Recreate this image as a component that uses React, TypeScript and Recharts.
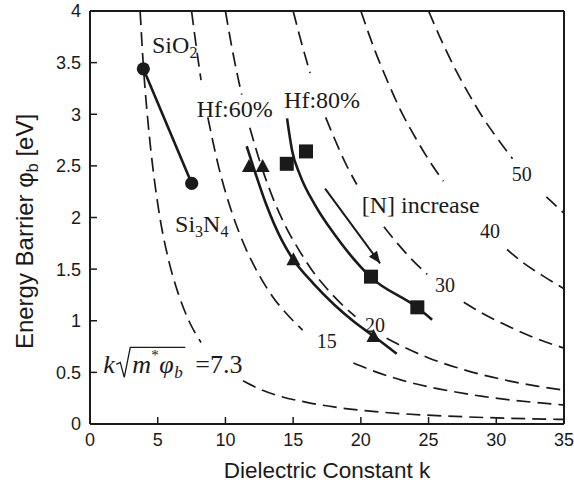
import {
  ComposedChart, Line, Scatter, XAxis, YAxis, ReferenceLine,
} from 'recharts'

type Pt = { x: number; y: number | null }

const xTicks = [0, 5, 10, 15, 20, 25, 30, 35]
const yTicks = [0, 0.5, 1, 1.5, 2, 2.5, 3, 3.5, 4]

// dashed iso-lines of k*sqrt(m* phi_b) (null = gap behind a label)
const iso73: Pt[] = [
  { x: 3.7, y: 4.0 }, { x: 3.95, y: 3.45 }, { x: 4.3, y: 2.9 }, { x: 4.7, y: 2.42 },
  { x: 5.2, y: 1.97 }, { x: 5.8, y: 1.59 }, { x: 6.5, y: 1.27 }, { x: 7.3, y: 1.0 },
  { x: 8.2, y: 0.79 }, { x: 9.8, y: null }, { x: 11.3, y: 0.42 }, { x: 12.5, y: 0.34 },
  { x: 14, y: 0.27 }, { x: 16, y: 0.21 }, { x: 18, y: 0.165 }, { x: 20, y: 0.133 },
  { x: 23, y: 0.1 }, { x: 26, y: 0.079 }, { x: 30, y: 0.059 }, { x: 35, y: 0.044 },
]
const iso15: Pt[] = [
  { x: 7.5, y: 4.0 }, { x: 7.8, y: 3.7 }, { x: 8.2, y: 3.33 }, { x: 8.45, y: null },
  { x: 8.7, y: 2.97 }, { x: 9.5, y: 2.49 }, { x: 10.5, y: 2.04 }, { x: 11.5, y: 1.7 },
  { x: 12.5, y: 1.44 }, { x: 13.5, y: 1.23 }, { x: 14.5, y: 1.07 }, { x: 15.7, y: 0.91 },
  { x: 17.5, y: null }, { x: 19.45, y: 0.59 }, { x: 21, y: 0.51 }, { x: 23, y: 0.425 },
  { x: 25, y: 0.36 }, { x: 27, y: 0.31 }, { x: 29, y: 0.267 }, { x: 31, y: 0.234 },
  { x: 33, y: 0.207 }, { x: 35, y: 0.184 },
]
const iso20: Pt[] = [
  { x: 10, y: 4.0 }, { x: 10.5, y: 3.63 }, { x: 11.2, y: 3.19 }, { x: 11.5, y: null },
  { x: 11.8, y: 2.87 }, { x: 12.5, y: 2.56 }, { x: 13.5, y: 2.19 }, { x: 14.5, y: 1.9 },
  { x: 15.5, y: 1.67 }, { x: 16.5, y: 1.47 }, { x: 17.5, y: 1.31 }, { x: 18.5, y: 1.17 },
  { x: 19.6, y: 1.04 }, { x: 20.8, y: null }, { x: 21.9, y: 0.83 }, { x: 23, y: 0.756 },
  { x: 25, y: 0.64 }, { x: 27, y: 0.55 }, { x: 29, y: 0.476 }, { x: 31, y: 0.416 },
  { x: 33, y: 0.367 }, { x: 35, y: 0.327 },
]
const iso30: Pt[] = [
  { x: 15, y: 4.0 }, { x: 15.6, y: 3.7 }, { x: 16.25, y: 3.4 }, { x: 16.8, y: null },
  { x: 17.4, y: 2.97 }, { x: 18, y: 2.78 }, { x: 19, y: 2.49 }, { x: 19.7, y: 2.32 },
  { x: 20.7, y: null }, { x: 21.7, y: 1.91 }, { x: 22.5, y: 1.78 }, { x: 23.5, y: 1.63 },
  { x: 24.9, y: 1.45 }, { x: 26.2, y: null }, { x: 27.6, y: 1.18 }, { x: 29, y: 1.07 },
  { x: 31, y: 0.94 }, { x: 33, y: 0.826 }, { x: 35, y: 0.735 },
]
const iso40: Pt[] = [
  { x: 20, y: 4.0 }, { x: 21, y: 3.63 }, { x: 22, y: 3.31 }, { x: 23, y: 3.02 },
  { x: 24, y: 2.78 }, { x: 25, y: 2.56 }, { x: 26.1, y: 2.35 }, { x: 28.5, y: null },
  { x: 30.8, y: 1.69 }, { x: 32, y: 1.56 }, { x: 33.5, y: 1.43 }, { x: 35, y: 1.31 },
]
const iso50: Pt[] = [
  { x: 25, y: 4.0 }, { x: 26, y: 3.7 }, { x: 27, y: 3.43 }, { x: 28, y: 3.19 },
  { x: 29, y: 2.97 }, { x: 30, y: 2.78 }, { x: 31.2, y: 2.57 }, { x: 32.4, y: null },
  { x: 33.7, y: 2.2 }, { x: 35, y: 2.04 },
]
const isoLines = [iso73, iso15, iso20, iso30, iso40, iso50]

// measured films
const oxides: Pt[] = [{ x: 3.94, y: 3.44 }, { x: 7.51, y: 2.33 }]
const hf60Pts: Pt[] = [
  { x: 11.74, y: 2.5 }, { x: 12.75, y: 2.5 }, { x: 15.02, y: 1.595 }, { x: 20.93, y: 0.852 },
]
const hf80Pts: Pt[] = [
  { x: 14.53, y: 2.52 }, { x: 15.95, y: 2.64 }, { x: 20.75, y: 1.427 }, { x: 24.17, y: 1.13 },
]

// solid guide curves
const hf60Curve: Pt[] = [
  { x: 11.57, y: 2.69 }, { x: 12.06, y: 2.49 }, { x: 13, y: 2.13 }, { x: 14.16, y: 1.78 },
  { x: 15.02, y: 1.59 }, { x: 16.5, y: 1.36 }, { x: 18, y: 1.16 }, { x: 19.5, y: 0.99 },
  { x: 20.93, y: 0.852 }, { x: 22.65, y: 0.68 },
]
const hf80Curve: Pt[] = [
  { x: 14.55, y: 2.96 }, { x: 14.92, y: 2.65 }, { x: 15.51, y: 2.41 }, { x: 16.62, y: 2.12 },
  { x: 18.09, y: 1.83 }, { x: 20.75, y: 1.42 }, { x: 24.15, y: 1.13 }, { x: 25.26, y: 1.01 },
]
const nArrow: Pt[] = [{ x: 17.36, y: 2.28 }, { x: 21.42, y: 1.556 }]

const notes = [
  { id: 'sio2', x: 4.58, y: 3.59 },
  { id: 'si3n4', x: 6.28, y: 1.86 },
  { id: 'formula', x: 0.98, y: 0.49 },
  { id: 'label', x: 7.88, y: 2.97, text: 'Hf:60%' },
  { id: 'label', x: 14.33, y: 3.06, text: 'Hf:80%' },
  { id: 'label', x: 20.07, y: 2.04, text: '[N] increase' },
  { id: 'num', x: 16.74, y: 0.736, text: '15' },
  { id: 'num', x: 20.31, y: 0.89, text: '20' },
  { id: 'num', x: 25.48, y: 1.28, text: '30' },
  { id: 'num', x: 28.8, y: 1.8, text: '40' },
  { id: 'num', x: 31.14, y: 2.35, text: '50' },
]

const ink = '#1a1a1a'
const serif = '"Liberation Serif", "Times New Roman", serif'
const sans = '"Liberation Sans", Arial, sans-serif'

const Circle = ({ cx, cy }: any) => <circle cx={cx} cy={cy} r={6.6} fill={ink} />
const Square = ({ cx, cy }: any) => <rect x={cx - 7} y={cy - 7} width={14} height={14} fill={ink} />
const Tri = ({ cx, cy }: any) => (
  <polygon points={`${cx},${cy - 7} ${cx + 7},${cy + 6} ${cx - 7},${cy + 6}`} fill={ink} />
)

const ArrowHead = (p: any) => {
  if (p.index !== nArrow.length - 1) return <g key={p.key} />
  let ux = 0.59, uy = 0.806
  const pts = p.points
  if (pts && pts.length > 1) {
    const a = pts[pts.length - 2], b = pts[pts.length - 1]
    const d = Math.hypot(b.x - a.x, b.y - a.y) || 1
    ux = (b.x - a.x) / d
    uy = (b.y - a.y) / d
  }
  const L = 12, W = 5
  const bx = p.cx - ux * L, by = p.cy - uy * L
  return (
    <polygon
      key={p.key}
      points={`${p.cx},${p.cy} ${bx - uy * W},${by + ux * W} ${bx + uy * W},${by - ux * W}`}
      fill={ink}
    />
  )
}

const Note = ({ cx, cy, payload }: any) => {
  const t = { fontFamily: serif, fill: ink }
  switch (payload.id) {
    case 'sio2':
      return (
        <text x={cx} y={cy} fontSize={24} {...t}>
          SiO<tspan dy={5} fontSize={16}>2</tspan>
        </text>
      )
    case 'si3n4':
      return (
        <text x={cx} y={cy} fontSize={24} {...t}>
          Si<tspan dy={5} fontSize={16}>3</tspan>
          <tspan dy={-5}>N</tspan>
          <tspan dy={5} fontSize={16}>4</tspan>
        </text>
      )
    case 'formula':
      return (
        <g>
          <text x={cx} y={cy} fontSize={26} fontStyle="italic" {...t}>k</text>
          {/* radical sign with its bar over m* phi_b */}
          <path
            d={`M${cx + 13},${cy - 9} L${cx + 17},${cy - 11} L${cx + 21},${cy + 4} L${cx + 27},${cy - 26} L${cx + 82},${cy - 26}`}
            fill="none" stroke={ink} strokeWidth={1.3}
          />
          <text x={cx + 29} y={cy} fontSize={26} fontStyle="italic" {...t}>m</text>
          <text x={cx + 48} y={cy - 13} fontSize={15} {...t}>*</text>
          <text x={cx + 56} y={cy} fontSize={26} fontStyle="italic" {...t}>φ</text>
          <text x={cx + 71} y={cy + 5} fontSize={17} fontStyle="italic" {...t}>b</text>
          <text x={cx + 92} y={cy} fontSize={26} {...t}>=7.3</text>
        </g>
      )
    case 'num':
      return <text x={cx} y={cy} fontSize={20} {...t}>{payload.text}</text>
    default:
      return <text x={cx} y={cy} fontSize={24} {...t}>{payload.text}</text>
  }
}

const XLabel = ({ viewBox }: any) => (
  <text
    x={viewBox.x + viewBox.width / 2} y={viewBox.y + 54}
    textAnchor="middle" fontSize={22.5} fontFamily={sans} fill={ink}
  >
    Dielectric Constant k
  </text>
)

const YLabel = ({ viewBox }: any) => {
  const x = viewBox.x + 33
  const y = viewBox.y + viewBox.height / 2 + 14
  return (
    <text
      x={x} y={y} transform={`rotate(-90 ${x} ${y})`}
      textAnchor="middle" fontSize={24} fontFamily={sans} fill={ink}
    >
      Energy Barrier φ<tspan dy={5} fontSize={16}>b</tspan>
      <tspan dy={-5}> [eV]</tspan>
    </text>
  )
}

export default function App() {
  const tick = { fontSize: 18, fill: ink, fontFamily: sans }
  return (
    <div style={{ position: 'absolute', left: 0, top: 0, background: '#fff' }}>
      <ComposedChart width={574} height={484} margin={{ top: 11, right: 10, left: 0, bottom: 0 }}>
        <XAxis
          type="number" dataKey="x" domain={[0, 35]} ticks={xTicks} interval={0}
          height={60} tick={tick} tickSize={-7} tickMargin={16}
          axisLine={{ stroke: ink, strokeWidth: 2 }} tickLine={{ stroke: ink, strokeWidth: 1.5 }}
          label={{ content: XLabel }}
        />
        <YAxis
          type="number" dataKey="y" domain={[0, 4]} ticks={yTicks} interval={0}
          width={90} tick={tick} tickSize={-7} tickMargin={16}
          axisLine={{ stroke: ink, strokeWidth: 2 }} tickLine={{ stroke: ink, strokeWidth: 1.5 }}
          label={{ content: YLabel }}
        />
        <ReferenceLine y={4} stroke={ink} strokeWidth={2} />
        <ReferenceLine x={35} stroke={ink} strokeWidth={2} />

        {isoLines.map((d, i) => (
          <Line
            key={`iso${i}`} data={d} dataKey="y" type="monotone" stroke={ink}
            strokeWidth={1.7} strokeDasharray="14 7" dot={false} activeDot={false}
            isAnimationActive={false}
          />
        ))}

        <Line data={oxides} dataKey="y" type="linear" stroke={ink} strokeWidth={2.6}
          dot={false} activeDot={false} isAnimationActive={false} />
        <Line data={hf60Curve} dataKey="y" type="monotone" stroke={ink} strokeWidth={2.6}
          dot={false} activeDot={false} isAnimationActive={false} />
        <Line data={hf80Curve} dataKey="y" type="monotone" stroke={ink} strokeWidth={2.6}
          dot={false} activeDot={false} isAnimationActive={false} />
        <Line data={nArrow} dataKey="y" type="linear" stroke={ink} strokeWidth={2}
          dot={ArrowHead} activeDot={false} isAnimationActive={false} />

        <Scatter data={oxides} shape={Circle} isAnimationActive={false} />
        <Scatter data={hf60Pts} shape={Tri} isAnimationActive={false} />
        <Scatter data={hf80Pts} shape={Square} isAnimationActive={false} />
        <Scatter data={notes} shape={Note} isAnimationActive={false} />
      </ComposedChart>
    </div>
  )
}
